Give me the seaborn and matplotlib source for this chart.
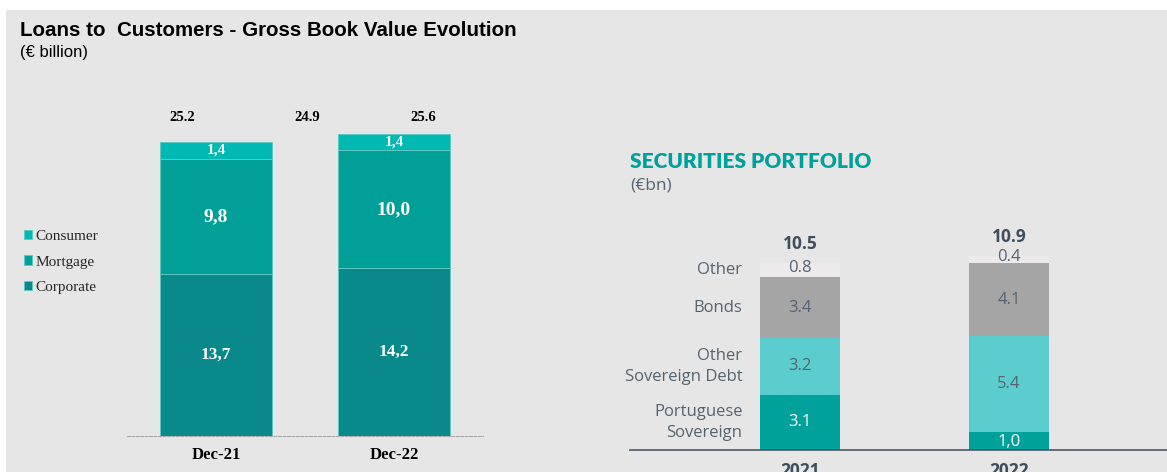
import numpy as np
import pandas as pd
import seaborn as sns
import matplotlib
matplotlib.use("Agg")
import matplotlib.pyplot as plt
from matplotlib.patches import Rectangle

# loans to customers (EUR bn)
periods = ["Dec-21", "Dec-22"]
corporate = [13.7, 14.2]
mortgage = [9.8, 10.0]
consumer = [1.4, 1.4]
loan_totals = [25.2, 24.9, 25.6]

# securities portfolio (EUR bn)
years = ["2021", "2022"]
pt_sov = [3.1, 1.0]
other_sov = [3.2, 5.4]
bonds = [3.4, 4.1]
other = [0.8, 0.4]
pt_sov_labels = ["3.1", "1,0"]
sec_labels = ["Portuguese\nSovereign", "Other\nSovereign Debt", "Bonds", "Other"]

sns.set_theme(style="white")
plt.rcParams["font.family"] = ["Liberation Sans", "DejaVu Sans"]

BG = "#e6e6e6"
W, H = 1167, 472
fig = plt.figure(figsize=(W / 100, H / 100), dpi=100)
fig.patch.set_facecolor("white")
fig.patches.append(Rectangle((6 / W, 0), 1, 1 - 10 / H, transform=fig.transFigure,
                             facecolor=BG, edgecolor="none", zorder=-5))

# ---------------- left chart ----------------
ax1 = fig.add_axes([127 / W, (H - 436) / H, 356 / W, 354 / H])
ax1.patch.set_alpha(0)

df_loans = pd.DataFrame({"period": periods, "Corporate": corporate,
                         "Mortgage": mortgage, "Consumer": consumer})
df_loans["c1"] = df_loans["Corporate"]
df_loans["c2"] = df_loans["c1"] + df_loans["Mortgage"]
df_loans["c3"] = df_loans["c2"] + df_loans["Consumer"]

loan_colors = {"Consumer": "#00b9b3", "Mortgage": "#00a099", "Corporate": "#0a898a"}
for col, name in [("c3", "Consumer"), ("c2", "Mortgage"), ("c1", "Corporate")]:
    sns.barplot(data=df_loans, x="period", y=col, color=loan_colors[name], saturation=1,
                width=0.627, edgecolor="#5fc9c3", linewidth=0.7, errorbar=None,
                label=name, ax=ax1)

ax1.set_ylim(0, 30)
ax1.set_xlim(-0.5, 1.5)
serif = ["Liberation Serif", "DejaVu Serif"]
for i, row in df_loans.iterrows():
    segs = [(row["Corporate"] / 2, row["Corporate"], 12.5),
            (row["c1"] + row["Mortgage"] / 2, row["Mortgage"], 14),
            (row["c2"] + row["Consumer"] / 2, row["Consumer"], 11)]
    for yc, v, fs in segs:
        ax1.text(i, yc, f"{v:.1f}".replace(".", ","), ha="center", va="center",
                 color="white", fontweight="bold", fontsize=fs, family=serif)

# totals row above bars
for xp, t in zip([-0.19, 0.515, 1.165], loan_totals):
    ax1.text(xp, 27.0, f"{t:.1f}", ha="center", va="center", color="black",
             fontweight="bold", fontsize=10.5, family=serif)

for s in ["top", "right", "left"]:
    ax1.spines[s].set_visible(False)
ax1.spines["bottom"].set_color("#a8a8a8")
ax1.spines["bottom"].set_linewidth(0.8)
ax1.spines["bottom"].set_linestyle((0, (2.5, 1.5)))
ax1.set_yticks([])
ax1.set_xlabel("")
ax1.set_ylabel("")
ax1.set_xticks([-0.5, 0.5, 1.5], minor=True)
ax1.tick_params(axis="x", which="minor", length=4, color="#a8a8a8", width=0.8, direction="out")
ax1.tick_params(axis="x", which="major", length=0, pad=8)
for lab in ax1.get_xticklabels():
    lab.set_fontfamily(serif)
    lab.set_fontweight("bold")
    lab.set_fontsize(12)
    lab.set_color("black")

handles, labels = ax1.get_legend_handles_labels()
fig.legend(handles, labels, loc="center left", bbox_to_anchor=(24 / W, 1 - 262 / H),
           frameon=False, prop={"family": serif, "size": 11}, handlelength=0.55,
           handleheight=0.55, handletextpad=0.2, labelspacing=0.8, borderaxespad=0,
           borderpad=0)
if ax1.get_legend() is not None:
    ax1.get_legend().remove()

fig.text(20 / W, 1 - 30 / H, "Loans to  Customers - Gross Book Value Evolution",
         ha="left", va="center", fontsize=14.8, fontweight="bold", color="black")
fig.text(20 / W, 1 - 53 / H, "(€ billion)", ha="left", va="center", fontsize=12, color="black")

# ---------------- right chart ----------------
ax2 = fig.add_axes([630 / W, (H - 450) / H, (W - 630) / W, 14 * 17.8 / H])
ax2.patch.set_alpha(0)

df_sec = pd.DataFrame({"year": years, "pt": pt_sov, "osov": other_sov,
                       "bonds": bonds, "other": other})
df_sec["s1"] = df_sec["pt"]
df_sec["s2"] = df_sec["s1"] + df_sec["osov"]
df_sec["s3"] = df_sec["s2"] + df_sec["bonds"]
df_sec["s4"] = df_sec["s3"] + df_sec["other"]

sec_colors = {"s4": "#eceaea", "s3": "#a5a5a5", "s2": "#5bcdce", "s1": "#00a19a"}
for col in ["s4", "s3", "s2", "s1"]:
    sns.barplot(data=df_sec, x="year", y=col, color=sec_colors[col], saturation=1,
                width=0.383, linewidth=0, errorbar=None, ax=ax2)

ax2.set_ylim(0, 14)
ax2.set_xlim(-0.813, 1.756)

sans2 = ["Open Sans", "DejaVu Sans"]
txt = "#56636e"
for i, row in df_sec.iterrows():
    ax2.text(i, row["pt"] / 2 + (0.05 if row["pt"] > 2 else -0.05), pt_sov_labels[i],
             ha="center", va="center", color="white", fontsize=12, family=sans2)
    ax2.text(i, row["s1"] + row["osov"] / 2, f"{row['osov']:.1f}", ha="center", va="center",
             color=txt, fontsize=12, family=sans2)
    ax2.text(i, row["s2"] + row["bonds"] / 2, f"{row['bonds']:.1f}", ha="center", va="center",
             color=txt, fontsize=12, family=sans2)
    ax2.text(i, row["s3"] + row["other"] / 2 + 0.12, f"{row['other']:.1f}", ha="center",
             va="center", color=txt, fontsize=12, family=sans2)
    ax2.annotate(f"{row['s4']:.1f}", (i, row["s4"]), xytext=(0, 7), textcoords="offset points",
                 ha="center", va="bottom", color="#3e4e5c", fontsize=12.5,
                 fontweight="bold", family=sans2)

# category names beside the 2021 bar
r0 = df_sec.iloc[0]
name_y = [r0["pt"] / 2, r0["s1"] + r0["osov"] / 2, r0["s2"] + r0["bonds"] / 2,
          r0["s3"] + r0["other"] / 2]
for yc, name in zip(name_y, sec_labels):
    ax2.text(-0.275, yc, name, ha="right", va="center", color=txt, fontsize=12,
             family=sans2, linespacing=1.45)

for s in ["top", "right", "left"]:
    ax2.spines[s].set_visible(False)
ax2.spines["bottom"].set_color("#4a5866")
ax2.spines["bottom"].set_linewidth(1.2)
ax2.set_yticks([])
ax2.set_xlabel("")
ax2.set_ylabel("")
ax2.tick_params(axis="x", length=0, pad=9)
for lab in ax2.get_xticklabels():
    lab.set_fontfamily(sans2)
    lab.set_fontweight("bold")
    lab.set_fontsize(12.5)
    lab.set_color("#3e4e5c")

fig.text(630 / W, 1 - 162 / H, "SECURITIES PORTFOLIO", ha="left", va="center",
         fontsize=15, fontweight="heavy", color="#00a19a", family=["Lato", "DejaVu Sans"])
fig.text(630 / W, 1 - 185 / H, "(€bn)", ha="left", va="center", fontsize=12.5,
         color=txt, family=sans2)

fig.savefig("out.png", dpi=100, facecolor=fig.get_facecolor())
